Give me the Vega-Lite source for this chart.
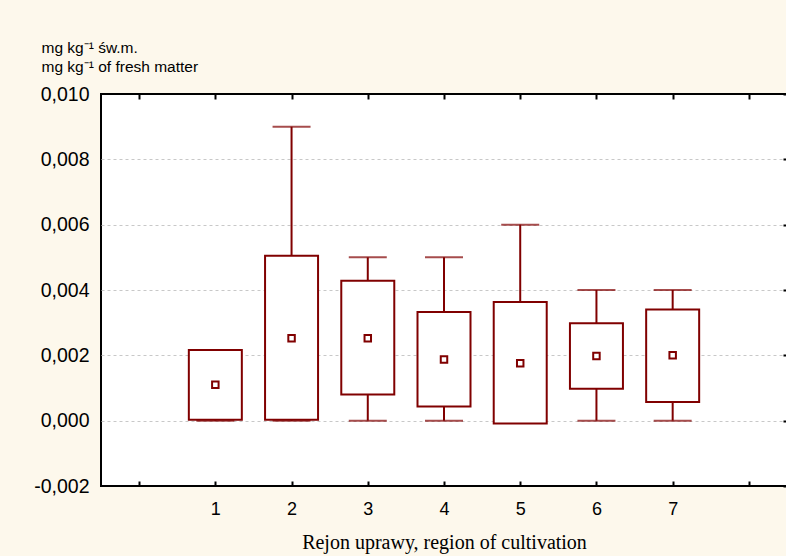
{
  "$schema": "https://vega.github.io/schema/vega-lite/v6.json",
  "autosize": "none",
  "padding": {"left": 101, "top": 94, "right": 0, "bottom": 70},
  "width": 686,
  "height": 392,
  "background": "#fdf8ec",
  "config": {
    "view": {"fill": "white", "stroke": "black", "strokeWidth": 2},
    "axis": {"labelFont": "Liberation Sans", "titleFont": "Liberation Sans", "labelColor": "black", "titleColor": "black", "domain": false}
  },
  "data": {
    "values": [
      {"region": 1, "min": 0, "max": 0.002, "lo": 0.00003, "hi": 0.00216, "mean": 0.0011},
      {"region": 2, "min": 0, "max": 0.009, "lo": 0.00003, "hi": 0.00505, "mean": 0.00252},
      {"region": 3, "min": 0, "max": 0.005, "lo": 0.0008, "hi": 0.00428, "mean": 0.00252},
      {"region": 4, "min": 0, "max": 0.005, "lo": 0.00043, "hi": 0.00333, "mean": 0.00187},
      {"region": 5, "min": 0, "max": 0.006, "lo": -0.00009, "hi": 0.00363, "mean": 0.00176},
      {"region": 6, "min": 0, "max": 0.004, "lo": 0.00098, "hi": 0.00298, "mean": 0.00198},
      {"region": 7, "min": 0, "max": 0.004, "lo": 0.00057, "hi": 0.0034, "mean": 0.002}
    ]
  },
  "resolve": {"axis": {"x": "independent", "y": "independent"}},
  "layer": [
    {
      "mark": {"type": "rule", "color": "#800000", "strokeWidth": 2},
      "encoding": {
        "x": {
          "field": "region", "type": "quantitative",
          "scale": {"domain": [-0.5, 8.5], "nice": false, "zero": false, "padding": 0},
          "axis": {
            "orient": "bottom", "values": [0, 1, 2, 3, 4, 5, 6, 7, 8],
            "labelExpr": "datum.value >= 1 && datum.value <= 7 ? datum.label : ''",
            "tickSize": -5, "tickWidth": 2, "tickColor": "black", "grid": false,
            "labelFontSize": 18, "labelPadding": 19,
            "title": "Rejon uprawy, region of cultivation",
            "titleFont": "Liberation Serif", "titleFontSize": 20, "titleFontWeight": "normal",
            "titlePadding": 14
          }
        },
        "y": {
          "field": "min", "type": "quantitative",
          "scale": {"domain": [-0.002, 0.01], "nice": false, "zero": false, "padding": 0},
          "axis": {
            "orient": "left", "values": [-0.002, 0, 0.002, 0.004, 0.006, 0.008, 0.01],
            "labelExpr": "(datum.value < 0 ? '-' : '') + replace(format(abs(datum.value), '.3f'), '.', ',')",
            "ticks": false, "labelPadding": 12, "labelFontSize": 19.5,
            "grid": true, "gridColor": "#c8c8c8", "gridDash": [3, 3], "gridWidth": 1,
            "gridOpacity": {"condition": {"test": "datum.value > -0.0015 && datum.value < 0.0095", "value": 1}, "value": 0},
            "title": ["mg kg⁻¹ św.m.", "mg kg⁻¹ of fresh matter"],
            "titleAngle": 0, "titleAlign": "left", "titleBaseline": "alphabetic",
            "titleX": -60, "titleY": -42, "titleFontSize": 15.5, "titleFontWeight": "normal",
            "titleLineHeight": 19
          }
        },
        "y2": {"field": "max"}
      }
    },
    {
      "mark": {"type": "tick", "orient": "horizontal", "color": "#800000", "size": 38, "thickness": 2},
      "encoding": {
        "x": {
          "field": "region", "type": "quantitative",
          "axis": {"orient": "top", "values": [0, 1, 2, 3, 4, 5, 6, 7, 8], "labels": false, "tickSize": -5, "tickWidth": 2, "tickColor": "black", "grid": false, "title": null}
        },
        "y": {
          "field": "max", "type": "quantitative",
          "axis": {"orient": "right", "values": [-0.002, 0, 0.002, 0.004, 0.006, 0.008, 0.01], "labels": false, "tickSize": -4, "tickWidth": 2, "tickColor": "black", "grid": false, "title": null}
        }
      }
    },
    {
      "mark": {"type": "tick", "orient": "horizontal", "color": "#800000", "size": 38, "thickness": 2},
      "encoding": {
        "x": {"field": "region", "type": "quantitative", "axis": null},
        "y": {"field": "min", "type": "quantitative", "axis": null}
      }
    },
    {
      "mark": {"type": "bar", "orient": "vertical", "size": 53, "fill": "white", "stroke": "#800000", "strokeWidth": 2},
      "encoding": {
        "x": {"field": "region", "type": "quantitative", "axis": null},
        "y": {"field": "lo", "type": "quantitative", "axis": null},
        "y2": {"field": "hi"}
      }
    },
    {
      "mark": {"type": "point", "shape": "square", "size": 42, "filled": false, "fill": "white", "stroke": "#800000", "strokeWidth": 2, "opacity": 1},
      "encoding": {
        "x": {"field": "region", "type": "quantitative", "axis": null},
        "y": {"field": "mean", "type": "quantitative", "axis": null}
      }
    }
  ]
}
